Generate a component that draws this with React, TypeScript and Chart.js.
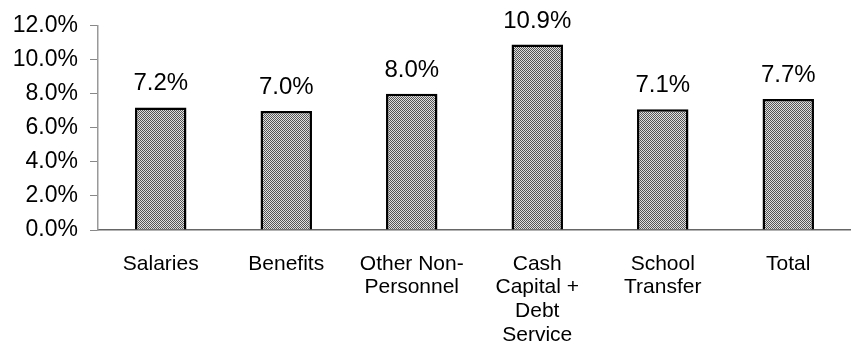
import React, { useEffect, useRef } from "react";
import { Chart, registerables } from "chart.js";

Chart.register(...registerables);

const categories: string[][] = [
  ["Salaries"],
  ["Benefits"],
  ["Other Non-", "Personnel"],
  ["Cash", "Capital +", "Debt", "Service"],
  ["School", "Transfer"],
  ["Total"],
];
const growthRates: number[] = [7.2, 7.0, 8.0, 10.9, 7.1, 7.7];
const yTickValues: number[] = [0, 2, 4, 6, 8, 10, 12];

const FONT = "'Liberation Sans', Arial, Helvetica, sans-serif";

function makeDotPattern(): CanvasPattern | string {
  const c = document.createElement("canvas");
  c.width = 2;
  c.height = 2;
  const g = c.getContext("2d");
  if (!g) return "#999";
  g.fillStyle = "#e0e0e0";
  g.fillRect(0, 0, 2, 2);
  g.fillStyle = "#555555";
  g.fillRect(0, 0, 1, 1);
  g.fillRect(1, 1, 1, 1);
  const p = g.createPattern(c, "repeat");
  return p || "#999";
}

const valueLabels = {
  id: "valueLabels",
  afterDatasetsDraw(chart: any) {
    const ctx = chart.ctx;
    const meta = chart.getDatasetMeta(0);
    ctx.save();
    ctx.font = `24px ${FONT}`;
    ctx.fillStyle = "#000";
    ctx.textAlign = "center";
    ctx.textBaseline = "alphabetic";
    meta.data.forEach((bar: any, i: number) => {
      ctx.fillText(`${growthRates[i].toFixed(1)}%`, bar.x, bar.y - 17);
    });
    ctx.restore();
  },
};

export default function App() {
  const canvasRef = useRef<HTMLCanvasElement | null>(null);

  useEffect(() => {
    if (!canvasRef.current) return;
    const chart = new Chart(canvasRef.current, {
      type: "bar",
      data: {
        labels: categories,
        datasets: [
          {
            data: growthRates,
            backgroundColor: makeDotPattern() as any,
            borderColor: "#000",
            borderWidth: 2.5,
            borderSkipped: "bottom",
            categoryPercentage: 1,
            barPercentage: 0.41,
          },
        ],
      },
      plugins: [valueLabels],
      options: {
        animation: false,
        responsive: false,
        devicePixelRatio: 1,
        layout: { padding: { top: 24, right: 0, bottom: 0, left: 0 } },
        plugins: {
          legend: { display: false },
          tooltip: { enabled: false },
        },
        scales: {
          x: {
            grid: { display: false, drawTicks: false },
            border: { display: true, color: "#666", width: 1.5 },
            ticks: {
              color: "#000",
              font: { family: FONT, size: 21, lineHeight: 1.13 },
              padding: 22,
              maxRotation: 0,
              autoSkip: false,
            },
            afterFit(scale: any) {
              scale.height = 123;
            },
          },
          y: {
            min: 0,
            max: 12,
            afterBuildTicks(scale: any) {
              scale.ticks = yTickValues.map((v) => ({ value: v }));
            },
            grid: {
              display: true,
              drawOnChartArea: false,
              drawTicks: true,
              tickLength: 8,
              color: "#888",
            },
            border: { display: true, color: "#999", width: 1.5 },
            ticks: {
              color: "#000",
              font: { family: FONT, size: 23 },
              padding: 12,
              callback: (v: any) => `${Number(v).toFixed(1)}%`,
            },
            afterFit(scale: any) {
              scale.width = 98;
            },
          },
        },
      },
    });
    return () => chart.destroy();
  }, []);

  return (
    <div style={{ position: "absolute", left: 0, top: 0, width: 851, height: 353, background: "#fff" }}>
      <canvas ref={canvasRef} width={851} height={353} style={{ display: "block" }} />
    </div>
  );
}
